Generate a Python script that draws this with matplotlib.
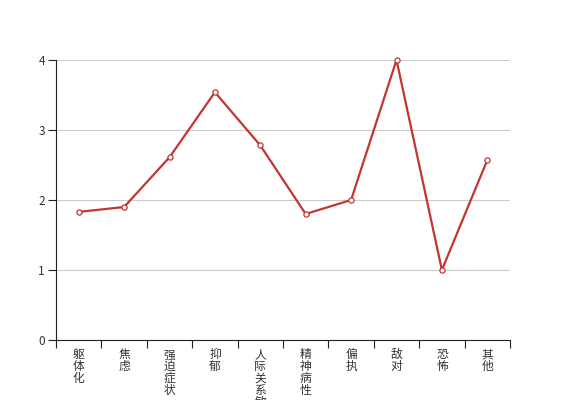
import numpy as np
import matplotlib.pyplot as plt

plt.rcParams['font.family'] = ['Noto Sans CJK SC', 'DejaVu Sans']

categories = ['躯体化', '焦虑', '强迫症状', '抑郁', '人际关系敏感',
              '精神病性', '偏执', '敌对', '恐怖', '其他']
scores = [1.83, 1.90, 2.61, 3.54, 2.78, 1.80, 2.00, 4.00, 1.00, 2.57]
yticks = [0, 1, 2, 3, 4]


def main():
    fig = plt.figure(figsize=(5.67, 4), dpi=100)
    ax = fig.add_axes([56 / 567, 60 / 400, 454 / 567, 280 / 400])

    n = len(categories)
    x = np.arange(n) + 0.5
    color = '#c23531'
    ax.plot(x, scores, color=color, linewidth=1.6, zorder=3, clip_on=False)
    ax.scatter(x, scores, s=14, facecolor='white', edgecolor=color,
               linewidth=0.9, zorder=4, clip_on=False)

    ax.set_xlim(0, n)
    ax.set_ylim(0, 4)

    # band boundaries carry the tick marks, labels sit in the middle
    ax.set_xticks(np.arange(n + 1))
    ax.set_xticklabels([])
    ax.set_xticks(x, minor=True)
    ax.set_xticklabels(['\n'.join(c) for c in categories], minor=True,
                       fontsize=8.5, color='#333333', linespacing=0.88,
                       va='top')
    ax.tick_params(axis='x', which='major', length=6, width=0.8, color='#222222')
    ax.tick_params(axis='x', which='minor', length=0, pad=6)

    ax.set_yticks(yticks)
    ax.tick_params(axis='y', length=6, width=0.8, color='#222222',
                   labelsize=8.5, labelcolor='#333333', pad=2)

    ax.grid(axis='y', color='#cccccc', linewidth=0.8, zorder=0)
    ax.set_axisbelow(True)
    for side in ['top', 'right']:
        ax.spines[side].set_visible(False)
    for side in ['left', 'bottom']:
        ax.spines[side].set_color('#222222')
        ax.spines[side].set_linewidth(0.8)

    fig.savefig('out.png', dpi=100)


if __name__ == '__main__':
    main()
